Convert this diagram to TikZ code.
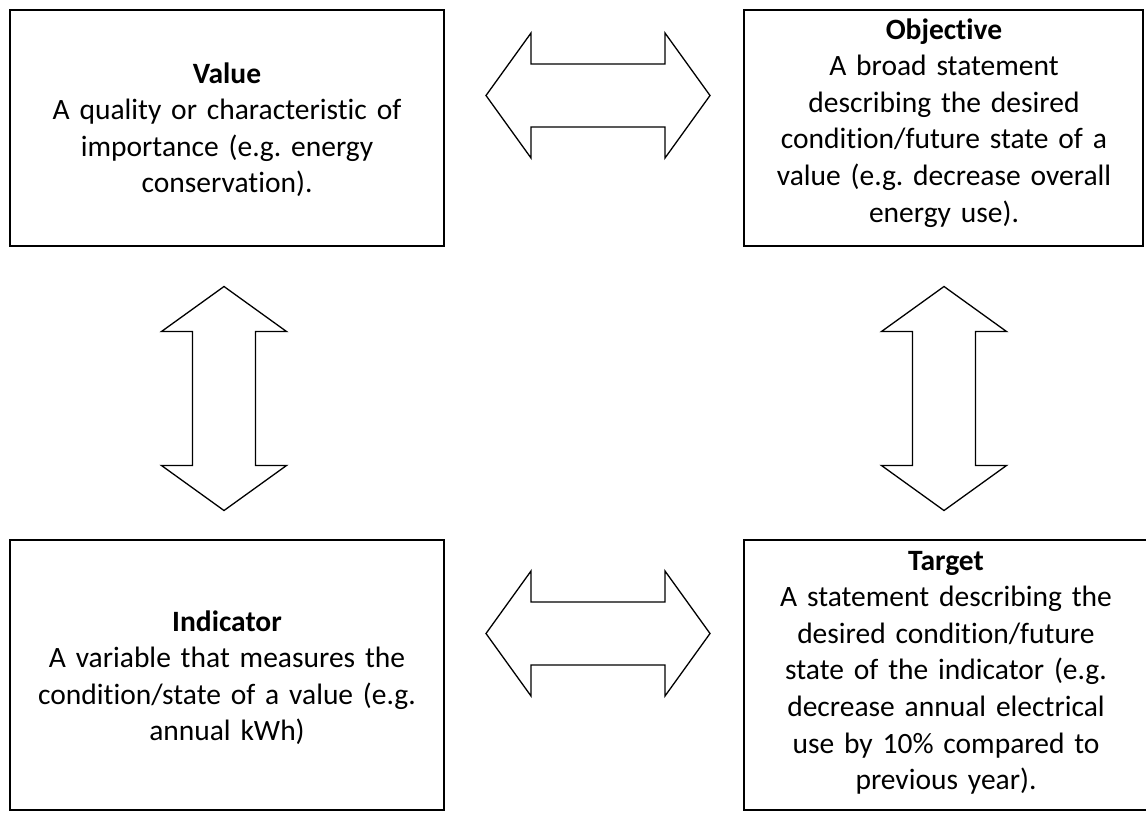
\documentclass[tikz,border=0pt]{standalone}
\usepackage{fontspec}
\setmainfont{Carlito}[Ligatures=NoCommon]
\tikzset{
	box/.style={draw, line width=2.2pt, inner sep=0pt},
	boxtext/.style={anchor=base, text width=420pt, align=center, inner sep=0pt,
		font=\fontsize{29.5}{36.6}\selectfont\frenchspacing},
	arrowline/.style={draw, line width=1.3pt, line join=miter, fill=white},
	dblarrow/.pic={
		\path[arrowline] (-112,0) -- (-67,62.5) -- (-67,31.5) -- (67,31.5) -- (67,62.5)
			-- (112,0) -- (67,-62.5) -- (67,-31.5) -- (-67,-31.5) -- (-67,-62.5) -- cycle;
	}
}
\begin{document}
\begin{tikzpicture}[x=1pt, y=-1pt]
			\useasboundingbox (0,0) rectangle (1146,812);
			\fill [white] (0,0) rectangle (1146,812);
			% the four boxes
			\node [box, minimum width=434pt, minimum height=236pt] (value) at (227,128) {};
			\node [box, minimum width=399pt, minimum height=236pt] (objective) at (943.5,128) {};
			\node [box, minimum width=434pt, minimum height=270pt] (indicator) at (227,675) {};
			\node [box, minimum width=414pt, minimum height=270pt] (target) at (951,675) {};
			\node [boxtext] (valuetext) at (227,83) {\textbf{Value}\\A quality or characteristic of\\importance (e.g. energy\\conservation).};
			\node [boxtext] (objectivetext) at (944,39) {\textbf{Objective}\\A broad statement\\describing the desired\\condition/future state of a\\value (e.g. decrease overall\\energy use).};
			\node [boxtext] (indicatortext) at (227,631) {\textbf{Indicator}\\A variable that measures the\\condition/state of a value (e.g.\\annual kWh)};
			\node [boxtext] (targettext) at (946,570) {\textbf{Target}\\A statement describing the\\desired condition/future\\state of the indicator (e.g.\\decrease annual electrical\\use by 10\% compared to\\previous year).};
			% double arrows between the boxes
			\pic (valueobjective) at (598,95.5) {dblarrow};
			\pic (indicatortarget) at (598,633.5) {dblarrow};
			\pic [rotate=90] (valueindicator) at (224,398.5) {dblarrow};
			\pic [rotate=90] (objectivetarget) at (944,398.5) {dblarrow};
		\end{tikzpicture}
\end{document}
